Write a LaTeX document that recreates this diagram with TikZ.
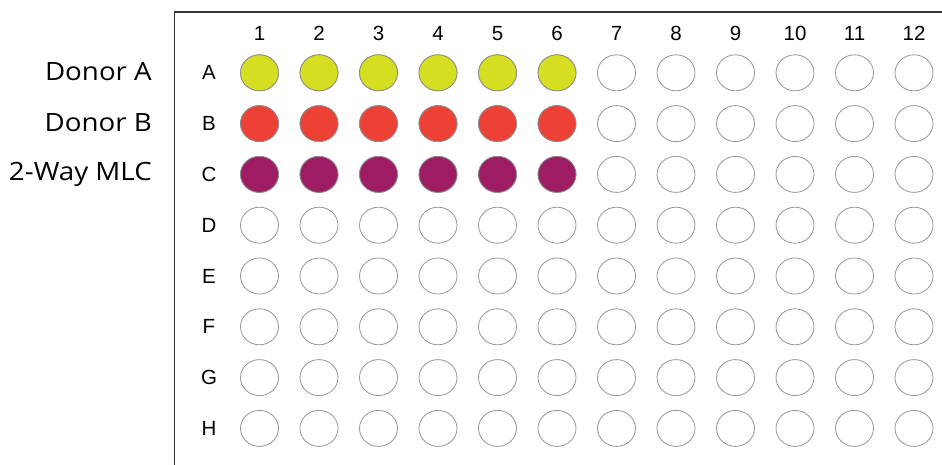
\documentclass[tikz,border=0pt]{standalone}
\usepackage{fontspec}
\setmainfont{Liberation Sans}
\newfontfamily\donorfont[FakeStretch=1.1]{Open Sans}
\usepackage{tikz}
\usetikzlibrary{shapes.geometric,positioning}

\definecolor{donorA}{RGB}{213,222,32}
\definecolor{donorB}{RGB}{238,65,53}
\definecolor{mlc}{RGB}{157,28,99}
\definecolor{rimgray}{RGB}{150,150,150}

\tikzset{
  well/.style={ellipse, draw=rimgray, line width=0.8pt, fill=white,
    minimum width=38pt, minimum height=36pt, inner sep=0pt},
  platelabel/.style={font=\fontsize{20.5}{24}\selectfont, inner sep=0pt},
  sidelabel/.style={font=\donorfont\fontsize{25.2}{30}\selectfont, anchor=east, inner sep=0pt}
}

\begin{document}
\begin{tikzpicture}[x=1pt, y=-1pt]
  \useasboundingbox (0,0) rectangle (942,465);
  % plate outline (cut off at right and bottom)
  \draw[line width=1.5pt, black!80] (174.5,470) -- (174.5,12) -- (950,12);
  % column numbers
  \foreach \c in {1,...,12}
    \node[platelabel] (col\c) at ({259.5+59.5*(\c-1)},33.7) {\c};
  % row letters and wells
  \foreach \r/\row in {1/A,2/B,3/C,4/D,5/E,6/F,7/G,8/H} {
    \node[platelabel] (row\row) at (209,{72.8+50.8*(\r-1)}) {\row};
    \foreach \c in {1,...,12}
      \node[well] (w\row\c) at ({259.5+59.5*(\c-1)},{72.8+50.8*(\r-1)}) {};
  }
  % filled samples
  \foreach \c in {1,...,6} {
    \node[well, fill=donorA, draw=black!45] (sA\c) at (wA\c) {};
    \node[well, fill=donorB, draw=black!45] (sB\c) at (wB\c) {};
    \node[well, fill=mlc, draw=black!45] (sC\c) at (wC\c) {};
  }
  % sample names
  \node[sidelabel] (donA) at (152,72) {Donor A};
  \node[sidelabel] (donB) at (152,123) {Donor B};
  \node[sidelabel] (mix) at (152,174) {2-Way MLC};
\end{tikzpicture}
\end{document}
